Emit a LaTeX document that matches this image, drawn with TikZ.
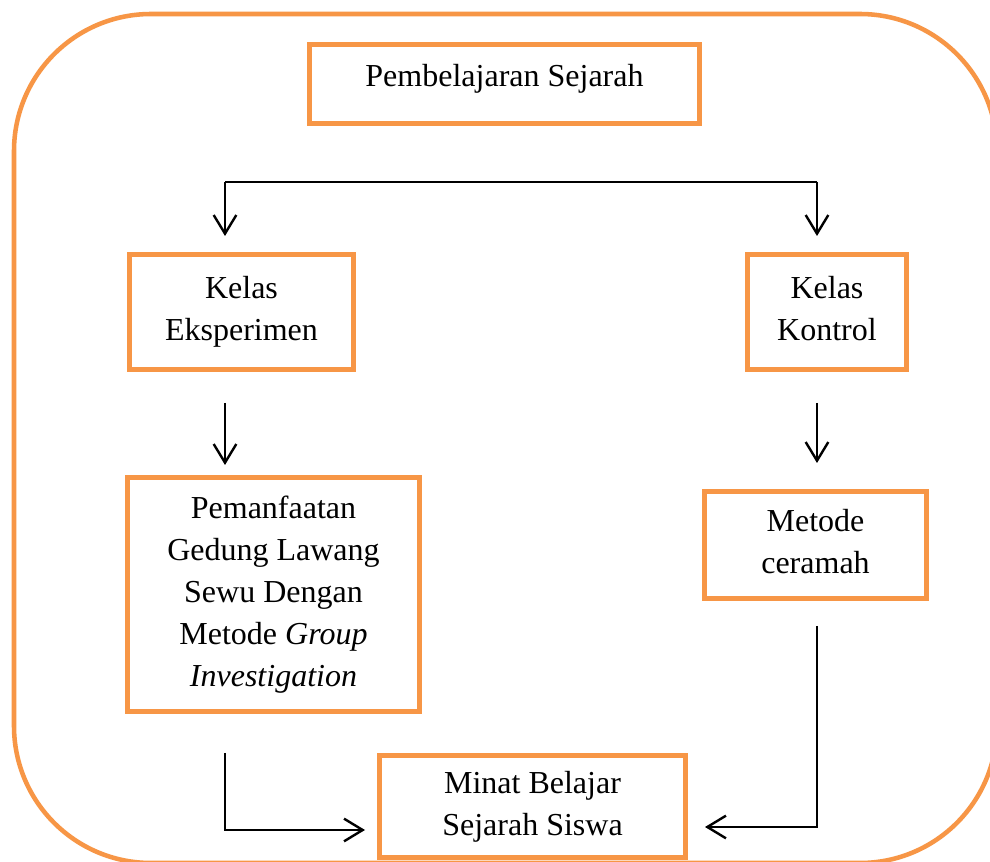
\documentclass[tikz,border=0pt]{standalone}
\usepackage{fontspec}
\setmainfont{Liberation Serif}
\usetikzlibrary{arrows.meta}
\definecolor{boxorange}{HTML}{F79646}
\begin{document}
\begin{tikzpicture}[x=0.75pt,y=-0.75pt,
  box/.style={draw=boxorange, line width=3.75pt, inner sep=0pt, align=center,
    font=\fontsize{24}{31.5}\selectfont},
  conn/.style={line width=1.6pt},
  arr/.style={conn, -{Straight Barb[length=14pt,width=17pt,line width=1.8pt]}}]
\clip (0,0) rectangle (990,862);
\fill[white] (0,0) rectangle (990,862);
\draw[boxorange, line width=3.4pt, rounded corners=102.75pt] (14,14) rectangle (997,863);

\node[box, minimum width=292.5pt, minimum height=59.25pt, text height=16.5pt, text depth=12pt] (P) at (504.5,84) {Pembelajaran Sejarah};
\node[box, minimum width=168pt, minimum height=86.25pt] (KE) at (241.5,312) {Kelas\\Eksperimen};
\node[box, minimum width=119.25pt, minimum height=86.25pt] (KK) at (827,312) {Kelas\\Kontrol\vphantom{j}};
\node[box, minimum width=219pt, minimum height=175.5pt] (PM) at (273.5,594.5) {Pemanfaatan\\Gedung Lawang\\Sewu Dengan\\Metode \textit{Group}\\\textit{Investigation}};
\node[box, minimum width=166.5pt, minimum height=80.25pt] (MC) at (815.5,545) {Metode\\ceramah\vphantom{j}};
\node[box, minimum width=229.5pt, minimum height=76.5pt] (MB) at (532.5,806.5) {Minat Belajar\\Sejarah Siswa};

\coordinate (s) at (225,182);
\coordinate (t) at (817,182);
\coordinate (kein) at (225,236);
\coordinate (kkin) at (817,236);
\coordinate (keout) at (225,403);
\coordinate (pmin) at (225,465);
\coordinate (kkout) at (817,403);
\coordinate (mcin) at (817,463);
\coordinate (pmout) at (225,753);
\coordinate (mbl) at (365,830);
\coordinate (mcout) at (817,626);
\coordinate (mbr) at (705,827);

\draw[conn] (s) -- (t);
\draw[arr] (s) -- (kein);
\draw[arr] (t) -- (kkin);
\draw[arr] (keout) -- (pmin);
\draw[arr] (kkout) -- (mcin);
\draw[arr] (pmout) |- (mbl);
\draw[arr] (mcout) |- (mbr);
\end{tikzpicture}
\end{document}
